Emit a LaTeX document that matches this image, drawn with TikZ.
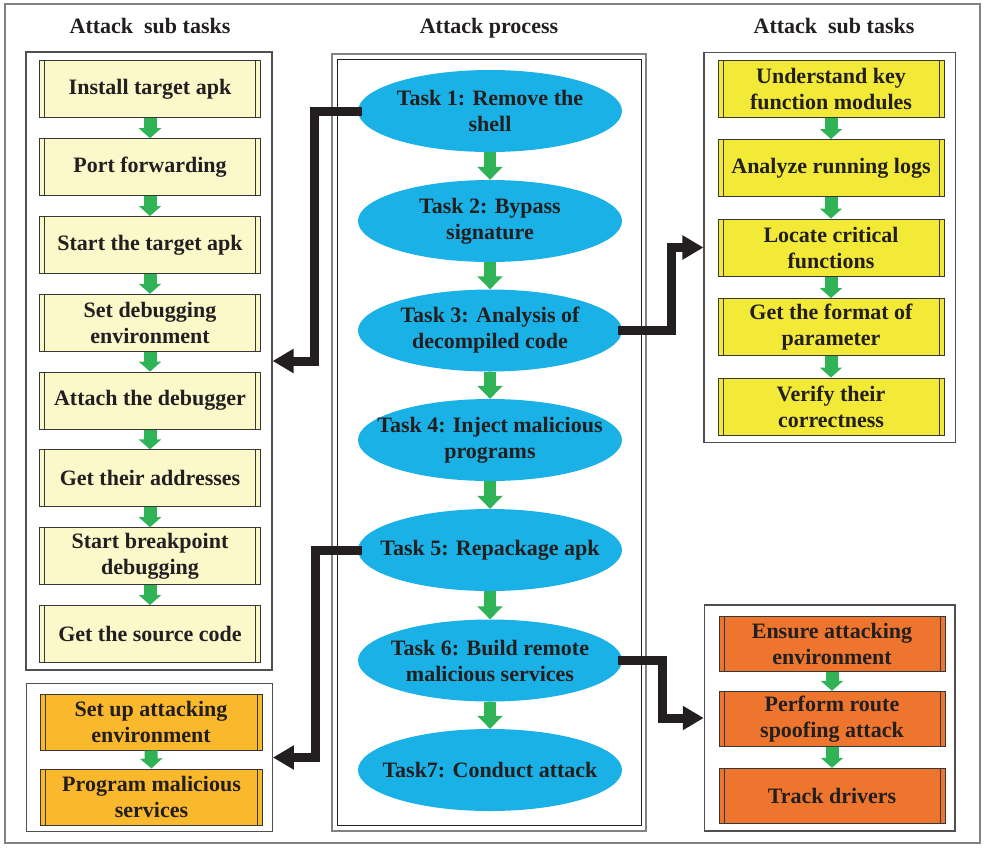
\documentclass[tikz,border=0pt]{standalone}
\usepackage{fontspec}
\setmainfont{Liberation Serif}
\usetikzlibrary{arrows.meta,shapes.geometric}
\definecolor{lightyel}{RGB}{251,248,202}
\definecolor{yel}{RGB}{242,234,54}
\definecolor{orng}{RGB}{238,117,46}
\definecolor{gold}{RGB}{250,184,45}
\definecolor{taskblue}{RGB}{26,177,230}
\definecolor{garrowc}{RGB}{48,179,86}
\definecolor{blk}{RGB}{35,31,32}
\definecolor{boxline}{RGB}{55,55,55}
\definecolor{frameline}{RGB}{80,80,80}
\definecolor{outerline}{RGB}{130,130,130}
\begin{document}
\begin{tikzpicture}[x=1pt,y=-1pt,
  txtfont/.style={font=\fontsize{22}{26}\selectfont\bfseries, text=blk},
  subbox/.style={draw=boxline, line width=1pt, minimum height=57pt, inner sep=0pt, align=center, txtfont,
    path picture={
      \draw[boxline,line width=1pt] ([xshift=5pt]path picture bounding box.north west) -- ([xshift=5pt]path picture bounding box.south west);
      \draw[boxline,line width=1pt] ([xshift=-5pt]path picture bounding box.north east) -- ([xshift=-5pt]path picture bounding box.south east);}},
  lsub/.style={subbox, fill=lightyel, minimum width=221pt},
  ysub/.style={subbox, fill=yel, minimum width=226pt},
  osub/.style={subbox, fill=orng, minimum width=226pt, minimum height=55pt},
  gsub/.style={subbox, fill=gold, minimum width=222pt, minimum height=56pt},
  task/.style={ellipse, fill=taskblue, minimum width=264pt, minimum height=82pt, inner xsep=-60pt, inner ysep=0pt, align=center, txtfont},
  framebox/.style={draw=frameline, line width=1.2pt, inner sep=0pt},
  garrow/.style={draw=garrowc, line width=13pt, -{Triangle[width=22pt,length=10pt]}},
  garrowm/.style={draw=garrowc, line width=12pt, -{Triangle[width=25pt,length=13pt]}},
  conn/.style={draw=blk, line width=9pt, line join=miter, -{Triangle[width=23pt,length=21pt]}},
  title/.style={txtfont}
]
\useasboundingbox (0,0) rectangle (985,849);
% outer frame
\draw[outerline, line width=1.5pt] (5,4) rectangle (980,843);
% titles
\node[title] (tl) at (150,26) {Attack~ sub tasks};
\node[title] (tm) at (489,28) {Attack process};
\node[title] (tr) at (834,26) {Attack~ sub tasks};
% frames
\node[framebox, minimum width=246pt, minimum height=618pt] (lf) at (149,361) {};
\node[framebox, minimum width=245.6pt, minimum height=148.4pt] (lbf) at (149.5,757.5) {};
\node[framebox, minimum width=251.7pt, minimum height=390.4pt] (rf) at (829.9,247.5) {};
\node[framebox, minimum width=250.7pt, minimum height=226pt] (rbf) at (829.7,718) {};
\node[draw=outerline, line width=1.2pt, minimum width=314pt, minimum height=777pt, inner sep=0pt] (mfo) at (489,442.5) {};
\node[draw=blk, line width=1pt, minimum width=304pt, minimum height=766pt, inner sep=0pt] (mfi) at (489,442) {};
% left sub tasks
\node[lsub] (l1) at (150,89.4) {Install target apk};
\node[lsub] (l2) at (150,167.2) {Port forwarding};
\node[lsub] (l3) at (150,245) {Start the target apk};
\node[lsub] (l4) at (150,322.8) {Set debugging\\environment};
\node[lsub] (l5) at (150,400.6) {Attach the debugger};
\node[lsub] (l6) at (150,478.4) {Get their addresses};
\node[lsub] (l7) at (150,556.2) {Start breakpoint\\debugging};
\node[lsub] (l8) at (150,634) {Get the source code};
\foreach \a/\b in {l1/l2,l2/l3,l3/l4,l4/l5,l5/l6,l6/l7,l7/l8}
  \draw[garrow] (\a.south) -- (\b.north);
% left bottom
\node[gsub] (g1) at (151,722) {Set up attacking\\environment};
\node[gsub] (g2) at (151.5,797) {Program malicious\\services};
\draw[garrow] (g1.south) -- (g2.north);
% tasks
\node[task] (t1) at (490,111) {Task 1: Remove the\\shell};
\node[task] (t2) at (490,221) {Task 2: Bypass\\signature};
\node[task] (t3) at (490,330.5) {Task 3: Analysis of\\decompiled code};
\node[task] (t4) at (490,440) {Task 4: Inject malicious\\programs};
\node[task] (t5) at (490,550) {Task 5: Repackage apk};
\node[task] (t6) at (490,660.5) {Task 6: Build remote\\malicious services};
\node[task] (t7) at (490,770) {Task7: Conduct attack};
\foreach \a/\b in {t1/t2,t2/t3,t3/t4,t4/t5,t5/t6,t6/t7}
  \draw[garrowm] (\a.south) -- (\b.north);
% right top
\node[ysub] (r1) at (831,88.5) {Understand key\\function modules};
\node[ysub] (r2) at (831,168) {Analyze running logs};
\node[ysub] (r3) at (831,247.5) {Locate critical\\functions};
\node[ysub] (r4) at (831,327) {Get the format of\\parameter};
\node[ysub] (r5) at (831,406.5) {Verify their\\correctness};
\foreach \a/\b in {r1/r2,r2/r3,r3/r4,r4/r5}
  \draw[garrow] (\a.south) -- (\b.north);
% right bottom
\node[osub] (o1) at (832,643.7) {Ensure attacking\\environment};
\node[osub] (o2) at (832,718.8) {Perform route\\spoofing attack};
\node[osub] (o3) at (832,795.8) {Track drivers};
\draw[garrow] (o1.south) -- (o2.north);
\draw[garrow] (o2.south) -- (o3.north);
% connectors
\draw[conn] ([xshift=4pt]t1.west) -- ++(-47,0) |- (lf.east);
\draw[conn] ([xshift=4pt]t5.west) -- ++(-46,0) |- (lbf.east);
\draw[conn] ([xshift=-4pt]t3.east) -- ++(53,0) |- (rf.west);
\draw[conn] ([xshift=-4pt]t6.east) -- ++(44,0) |- (rbf.west);
\end{tikzpicture}
\end{document}
